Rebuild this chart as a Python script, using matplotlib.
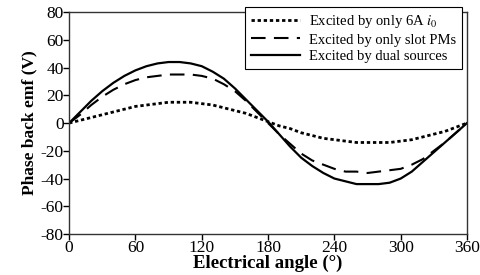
import matplotlib
matplotlib.use("Agg")
import matplotlib.pyplot as plt

plt.rcParams['font.family'] = ['Liberation Serif', 'DejaVu Serif']
plt.rcParams['mathtext.fontset'] = 'stix'
plt.rcParams['axes.unicode_minus'] = False

# electrical angle (deg) and back emf (V)
angle = [0, 10, 20, 30, 40, 50, 60, 70, 80, 90, 100, 110, 120, 130, 140, 150, 160, 170, 180,
         190, 200, 210, 220, 230, 240, 250, 260, 270, 280, 290, 300, 310, 320, 330, 340, 350, 360]
emf_i0 = [0, 2, 4, 6, 8, 10, 12, 13, 14, 15, 15, 15, 14, 13, 11, 9, 7, 4, 1,
          -2, -4, -7, -9, -11, -12, -13, -14, -14, -14, -14, -13, -12, -10, -8, -6, -3, 0]
emf_pm = [0, 6, 13, 19, 24, 28, 31, 33, 34, 35, 35, 35, 34, 32, 28, 23, 16, 8, 0,
          -8, -15, -22, -27, -30, -33, -35, -35, -36, -35, -34, -33, -30, -26, -20, -14, -7, 0]
emf_dual = [0, 8, 16, 23, 29, 34, 38, 41, 43, 44, 44, 43, 41, 37, 32, 25, 17, 9, 1,
            -8, -17, -25, -31, -36, -40, -42, -44, -44, -44, -43, -40, -35, -28, -21, -14, -7, 0]

fig = plt.figure(figsize=(4.8, 2.75), dpi=100)
ax = fig.add_axes([0.144, 0.149, 0.829, 0.807])

ax.plot(angle, emf_i0, color='black', lw=2.0, dashes=(1.2, 1.0),
        label='Excited by only 6A $i_0$')
ax.plot(angle, emf_pm, color='black', lw=1.5, dashes=(7, 4),
        label='Excited by only slot PMs')
ax.plot(angle, emf_dual, color='black', lw=1.6,
        label='Excited by dual sources')

ax.set_xlim(0, 360)
ax.set_ylim(-80, 80)
ax.set_xticks(range(0, 361, 60))
ax.set_yticks(range(-80, 81, 20))
ax.tick_params(direction='out', length=4, width=1, labelsize=12.5, pad=0)
ax.set_xlabel('Electrical angle (°)', fontsize=13.5, fontweight='bold', labelpad=-1)
ax.set_ylabel('Phase back emf (V)', fontsize=12.5, fontweight='bold', labelpad=2)
for s in ax.spines.values():
    s.set_color('#333333')
    s.set_linewidth(1.0)

leg = ax.legend(loc='upper right', bbox_to_anchor=(0.9625, 0.975),
                bbox_transform=fig.transFigure, fontsize=10.5, frameon=True,
                fancybox=False, edgecolor='black', framealpha=1,
                handlelength=3.4, borderpad=0.4, labelspacing=0.25,
                handletextpad=0.6, borderaxespad=0)
leg.get_frame().set_linewidth(0.8)

fig.savefig('out.png', dpi=100)
